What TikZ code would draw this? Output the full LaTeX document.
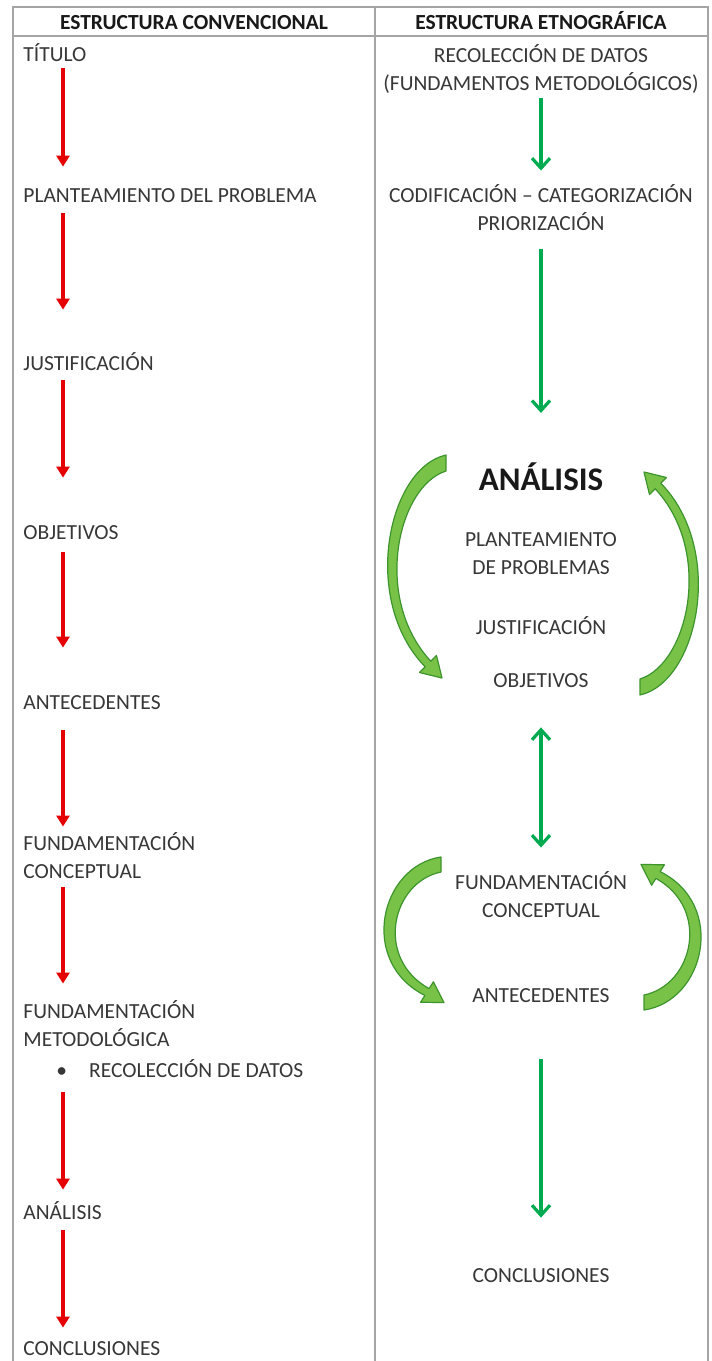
\documentclass[tikz,border=0pt]{standalone}
\usepackage{fontspec}
\setmainfont{Carlito}
\usepackage{tikz}
\usetikzlibrary{arrows.meta, positioning, calc}
\usepackage{xcolor}
\definecolor{ruleGray}{RGB}{165, 165, 165}
\definecolor{textGray}{RGB}{55, 55, 55}
\definecolor{headBlack}{RGB}{25, 25, 25}
\definecolor{convRed}{RGB}{228, 0, 0}
\definecolor{etnoGreen}{RGB}{0, 170, 80}
\definecolor{loopGreen}{RGB}{120, 194, 72}
\definecolor{loopEdge}{RGB}{62, 148, 44}

\begin{document}
\begin{tikzpicture}[
    x=0.5pt, y=-0.5pt,
    % Text styles
    itemtxt/.style={
        font=\fontsize{10.75}{14}\selectfont,
        text=textGray,
        inner sep=0pt,
        text height=7pt,
        text depth=0pt
    },
    multitxt/.style={
        font=\fontsize{10.75}{14}\selectfont,
        text=textGray,
        inner sep=0pt,
        align=#1
    },
    headtxt/.style={
        font=\fontsize{10.75}{14}\selectfont\bfseries,
        text=headBlack,
        inner sep=0pt,
        text height=7pt,
        text depth=0pt
    },
    % Arrow styles
    redarrow/.style={
        -{Triangle[width=6.5pt, length=5.5pt]},
        line width=2pt,
        draw=convRed
    },
    greenarrow/.style={
        -{Straight Barb[width=9pt, length=5pt]},
        line width=1.6pt,
        draw=etnoGreen
    },
    % Curved loop arrows
    loopshape/.style={
        fill=loopGreen,
        draw=loopEdge,
        line width=0.6pt,
        line join=round
    },
    tablerule/.style={
        draw=ruleGray,
        line width=1pt
    }
]

\useasboundingbox[fill=white] (0,0) rectangle (712,1361);

% ============================================
% TABLE FRAME
% ============================================
\draw[tablerule] (13,1361) |- (708,7) -- (708,1361);
\draw[tablerule] (13,36) -- (708,36);
\draw[tablerule] (375,7) -- (375,1361);

\node[headtxt] (headconv) at (194,22) {ESTRUCTURA CONVENCIONAL};
\node[headtxt] (headetno) at (541,22) {ESTRUCTURA ETNOGRÁFICA};

% ============================================
% LEFT COLUMN: CONVENTIONAL STRUCTURE
% ============================================
\coordinate (redx) at (63,0);

\node[itemtxt, anchor=west] (titulo) at (23,54) {TÍTULO};
\node[itemtxt, anchor=west] (plant) at (23,195) {PLANTEAMIENTO DEL PROBLEMA};
\node[itemtxt, anchor=west] (justif) at (23,363) {JUSTIFICACIÓN};
\node[itemtxt, anchor=west] (objet) at (23,532) {OBJETIVOS};
\node[itemtxt, anchor=west] (antec) at (23,702) {ANTECEDENTES};
\node[multitxt=left, anchor=west] (fundc) at (23,856) {FUNDAMENTACIÓN\\CONCEPTUAL};
\node[multitxt=left, anchor=west] (fundm) at (23,1024) {FUNDAMENTACIÓN\\METODOLÓGICA};
\node[itemtxt, anchor=west] (recol) at (56,1070) {\textbullet\hspace{11pt}RECOLECCIÓN DE DATOS};
\node[itemtxt, anchor=west] (analis) at (23,1212) {ANÁLISIS};
\node[itemtxt, anchor=west] (concl) at (23,1348) {CONCLUSIONES};

% Titulo -> Planteamiento
\draw[redarrow, shorten <=3.5pt, shorten >=10.5pt] (titulo.south -| redx) -- (plant.north -| redx);
% Planteamiento -> Justificacion
\draw[redarrow, shorten <=5.5pt, shorten >=23pt] (plant.south -| redx) -- (justif.north -| redx);
% Justificacion -> Objetivos
\draw[redarrow, shorten <=5pt, shorten >=23.5pt] (justif.south -| redx) -- (objet.north -| redx);
% Objetivos -> Antecedentes
\draw[redarrow, shorten <=6.5pt, shorten >=23.5pt] (objet.south -| redx) -- (antec.north -| redx);
% Antecedentes -> Fundamentacion conceptual
\draw[redarrow, shorten <=10.5pt, shorten >=3pt] (antec.south -| redx) -- (fundc.north -| redx);
% Fundamentacion conceptual -> metodologica
\draw[redarrow, shorten <=4pt, shorten >=8.5pt] (fundc.south -| redx) -- (fundm.north -| redx);
% Recoleccion -> Analisis
\draw[redarrow, shorten <=7.5pt, shorten >=7.5pt] (recol.south -| redx) -- (analis.north -| redx);
% Analisis -> Conclusiones
\draw[redarrow, shorten <=5.5pt, shorten >=6.5pt] (analis.south -| redx) -- (concl.north -| redx);

% ============================================
% RIGHT COLUMN: ETHNOGRAPHIC STRUCTURE
% ============================================
\coordinate (grnx) at (541,0);

\node[multitxt=center] (recog) at (541,69) {RECOLECCIÓN DE DATOS\\(FUNDAMENTOS METODOLÓGICOS)};
\node[multitxt=center] (codif) at (541,208) {CODIFICACIÓN -- CATEGORIZACIÓN\\PRIORIZACIÓN};

% Analysis loop
\node[headtxt, font=\fontsize{16.5}{20}\selectfont\bfseries, text height=10.7pt] (analisis) at (541,480) {ANÁLISIS};
\node[multitxt=center] (plprob) at (541,554) {PLANTEAMIENTO\\DE PROBLEMAS};
\node[itemtxt] (justif2) at (541,627) {JUSTIFICACIÓN};
\node[itemtxt] (objet2) at (541,680) {OBJETIVOS};

% Foundations loop
\node[multitxt=center] (fundc2) at (541,895) {FUNDAMENTACIÓN\\CONCEPTUAL};
\node[itemtxt] (antec2) at (541,995) {ANTECEDENTES};

\node[itemtxt] (concl2) at (541,1275) {CONCLUSIONES};

% Recoleccion -> Codificacion
\draw[greenarrow, shorten <=2pt, shorten >=7pt] (recog.south -| grnx) -- (codif.north -| grnx);
% Codificacion -> Analisis
\draw[greenarrow, shorten <=9pt, shorten >=28pt] (codif.south -| grnx) -- (analisis.north -| grnx);
% Objetivos <-> Fundamentacion
\draw[greenarrow, {Straight Barb[width=9pt, length=5pt]}-{Straight Barb[width=9pt, length=5pt]}, shorten <=20pt, shorten >=12pt] (objet2.south -| grnx) -- (fundc2.north -| grnx);
% Antecedentes -> Conclusiones
\draw[greenarrow, shorten <=28.5pt, shorten >=25pt] (antec2.south -| grnx) -- (concl2.north -| grnx);

% ============================================
% CURVED LOOP ARROWS
% ============================================
\coordinate (loopA) at (543,575);
\coordinate (loopB) at (542.5,933.5);

\foreach \ang in {0,180} {
    % around the analysis block
    \path[loopshape, rotate around={\ang:(loopA)}]
        (446,455) .. controls (388,468) and (360,600) .. (425.2,666.8)
        -- (419.5,672.5) -- (442,678) -- (436.5,655.5) -- (430.8,661.2)
        .. controls (372,598) and (398,486) .. (446,471) -- cycle;
    % around the foundations block
    \path[loopshape, rotate around={\ang:(loopB)}]
        (441,857) .. controls (380,866) and (358,962) .. (424.9,995.4)
        -- (420.6,1002.2) -- (444,1002.6) -- (433.4,981.8) -- (429.1,988.6)
        .. controls (374,958) and (392,882) .. (441,872) -- cycle;
}

\end{tikzpicture}
\end{document}
